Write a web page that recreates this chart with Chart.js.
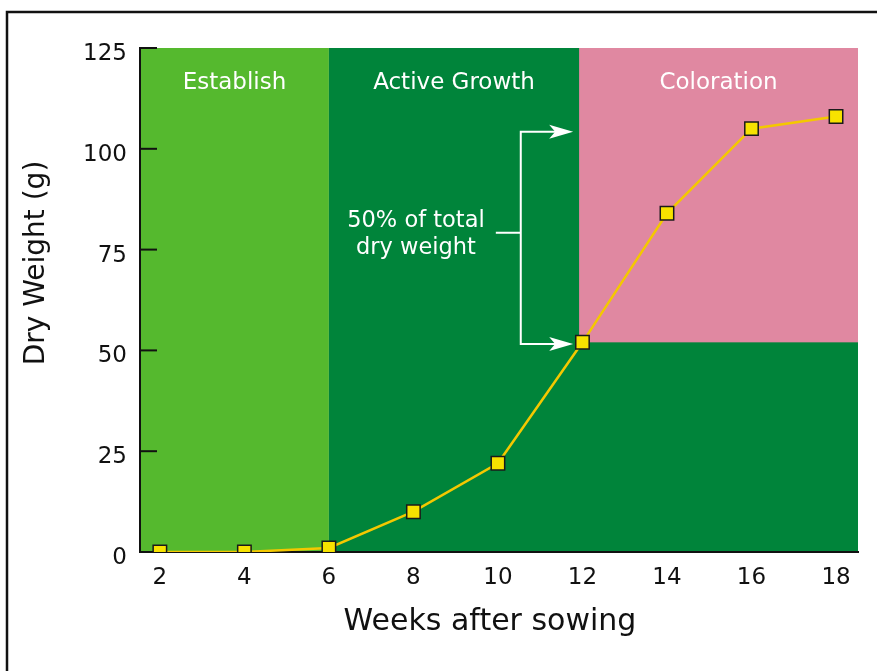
<!DOCTYPE html>
<html>
<head>
<meta charset="utf-8">
<script src="https://cdn.jsdelivr.net/npm/chart.js@4.4.1/dist/chart.umd.min.js"></script>
<style>
html,body{margin:0;padding:0;background:#fff;overflow:hidden}
#wrap{position:relative;width:877px;height:671px}
</style>
</head>
<body>
<div id="wrap"><canvas id="growthChart"></canvas></div>
<script>
;(function(){
const weeks = [2, 4, 6, 8, 10, 12, 14, 16, 18]
const dryWeight = [0, 0, 1, 10, 22, 52, 84, 105, 108]
const xTickValues = [2, 4, 6, 8, 10, 12, 14, 16, 18]
const yTickValues = [0, 25, 50, 75, 100, 125]

const phaseNames = ["Establish", "Active Growth", "Coloration"]
const phaseStart = [1.53, 6, 11.92]
const phaseEnd = [6, 18.52, 18.52]
const phaseLabelEnd = [6, 11.92, 18.52]
const phaseFloor = [0, 0, 52]
const phaseColors = ["#55b92e", "#00843a", "#e088a1"]

// bracket: from 50% mark up to total
const bracketTargets = [104.2, 51.6]
const bracketLabel = ["50% of total", "dry weight"]

const FONT = "'DejaVu Sans', sans-serif"

const phasePlugin = {
  id: "phases",
  beforeDraw(chart){
    const {ctx, scales: {x, y}} = chart
    ctx.save()
    // outer frame
    ctx.strokeStyle = "#111"
    ctx.lineWidth = 2.5
    ctx.beginPath()
    ctx.moveTo(7, 700)
    ctx.lineTo(7, 12)
    ctx.lineTo(900, 12)
    ctx.stroke()

    phaseNames.forEach((name, i) => {
      const left = x.getPixelForValue(phaseStart[i])
      const right = x.getPixelForValue(phaseEnd[i])
      const top = y.getPixelForValue(125)
      const bottom = y.getPixelForValue(phaseFloor[i])
      ctx.fillStyle = phaseColors[i]
      ctx.fillRect(left, top, right - left, bottom - top)
    })
    ctx.restore()
  },
  beforeDatasetsDraw(chart){
    const {ctx, scales: {x, y}} = chart
    ctx.save()

    // inward ticks on the y axis
    ctx.strokeStyle = "#111"
    ctx.lineWidth = 2
    yTickValues.forEach((v) => {
      const py = y.getPixelForValue(v)
      ctx.beginPath()
      ctx.moveTo(x.left, py)
      ctx.lineTo(x.left + 17, py)
      ctx.stroke()
    })

    // phase labels
    ctx.fillStyle = "#fff"
    ctx.font = "23px " + FONT
    ctx.textAlign = "center"
    ctx.textBaseline = "middle"
    phaseNames.forEach((name, i) => {
      const left = x.getPixelForValue(phaseStart[i])
      const right = x.getPixelForValue(phaseLabelEnd[i])
      ctx.fillText(name, (left + right) / 2, y.getPixelForValue(116.3))
    })

    // bracket with arrows
    const bx = x.getPixelForValue(10.54)
    const tipX = x.getPixelForValue(11.78)
    const yTop = y.getPixelForValue(bracketTargets[0])
    const yBot = y.getPixelForValue(bracketTargets[1])
    ctx.strokeStyle = "#fff"
    ctx.lineWidth = 2
    ctx.beginPath()
    ctx.moveTo(tipX - 10, yTop)
    ctx.lineTo(bx, yTop)
    ctx.lineTo(bx, yBot)
    ctx.lineTo(tipX - 10, yBot)
    const stubY = y.getPixelForValue(79.2)
    ctx.moveTo(x.getPixelForValue(9.95), stubY)
    ctx.lineTo(bx, stubY)
    ctx.stroke()

    ctx.fillStyle = "#fff"
    bracketTargets.forEach((v) => {
      const py = y.getPixelForValue(v)
      ctx.beginPath()
      ctx.moveTo(tipX, py)
      ctx.lineTo(tipX - 24, py - 7)
      ctx.lineTo(tipX - 18, py)
      ctx.lineTo(tipX - 24, py + 7)
      ctx.closePath()
      ctx.fill()
    })

    ctx.font = "22.5px " + FONT
    ctx.fillText(bracketLabel[0], x.getPixelForValue(8.06), y.getPixelForValue(82.1))
    ctx.fillText(bracketLabel[1], x.getPixelForValue(8.06), y.getPixelForValue(75.4))
    ctx.restore()
  },
  afterDraw(chart){
    const {ctx} = chart
    ctx.save()
    ctx.fillStyle = "#111"
    ctx.textAlign = "center"
    ctx.textBaseline = "middle"
    ctx.font = "30px " + FONT
    ctx.fillText("Weeks after sowing", 490, 622)
    ctx.translate(37, 263)
    ctx.rotate(-Math.PI / 2)
    ctx.font = "28px " + FONT
    ctx.fillText("Dry Weight (g)", 0, 0)
    ctx.restore()
  }
}

new Chart(document.getElementById("growthChart"), {
  type: "line",
  data: {
    datasets: [{
      data: weeks.map((w, i) => ({x: w, y: dryWeight[i]})),
      borderColor: "#f4c800",
      borderWidth: 2.5,
      pointStyle: "rect",
      pointRadius: 9.5,
      pointHoverRadius: 9.5,
      pointBackgroundColor: "#f7e200",
      pointBorderColor: "#1a1a1a",
      pointBorderWidth: 1.5,
      tension: 0
    }]
  },
  options: {
    responsive: true,
    maintainAspectRatio: false,
    animation: false,
    events: [],
    layout: {padding: {top: 48, right: 19, left: 0, bottom: 0}},
    plugins: {legend: {display: false}, tooltip: {enabled: false}},
    scales: {
      x: {
        type: "linear",
        min: 1.53,
        max: 18.52,
        afterBuildTicks(scale){
          scale.ticks = xTickValues.map((v) => ({value: v}))
        },
        afterFit(scale){
          scale.height = 119
        },
        grid: {display: false, drawTicks: false},
        border: {display: true, color: "#111", width: 2},
        ticks: {
          color: "#111",
          padding: 12,
          font: {family: FONT, size: 23},
          callback: (v) => String(v)
        }
      },
      y: {
        type: "linear",
        min: 0,
        max: 125,
        afterBuildTicks(scale){
          scale.ticks = yTickValues.map((v) => ({value: v}))
        },
        afterFit(scale){
          scale.width = 140
        },
        grid: {display: false, drawTicks: false},
        border: {display: true, color: "#111", width: 2},
        ticks: {
          color: "#111",
          padding: 13,
          labelOffset: 6,
          font: {family: FONT, size: 23},
          callback: (v) => String(v)
        }
      }
    }
  },
  plugins: [phasePlugin]
})
})()
</script>
</body>
</html>
